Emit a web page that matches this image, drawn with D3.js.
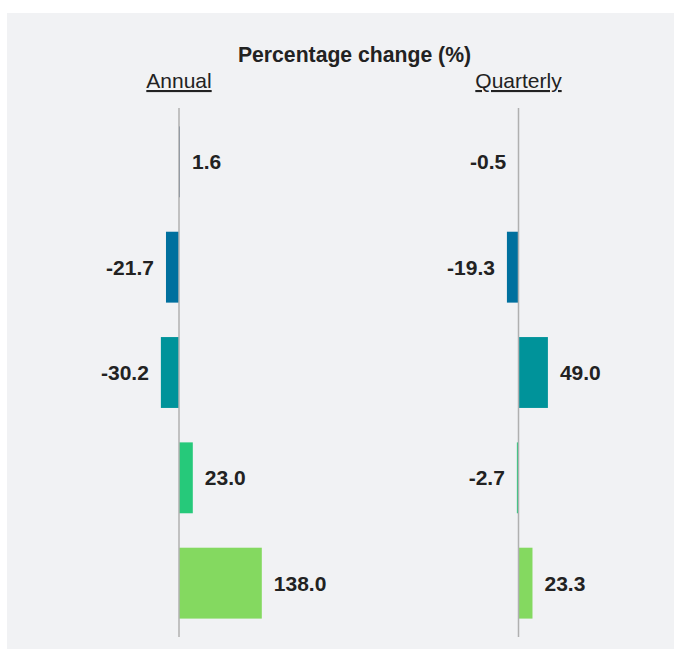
<!DOCTYPE html>
<html>
<head>
<meta charset="utf-8">
<script src="https://cdn.jsdelivr.net/npm/d3@7"></script>
<style>
  html, body { margin: 0; padding: 0; background: #ffffff; }
  svg { display: block; }
  text { font-family: "Liberation Sans", Arial, Helvetica, sans-serif; }
</style>
</head>
<body>
<svg id="chart" width="674" height="649"></svg>
<script>
// ---- data ----
const categories = ["Row 1", "Row 2", "Row 3", "Row 4", "Row 5"];
const annualValues = [1.6, -21.7, -30.2, 23.0, 138.0];
const quarterlyValues = [-0.5, -19.3, 49.0, -2.7, 23.3];
const barColors = ["#3b5878", "#00709e", "#00939a", "#26c97a", "#84d960"];
const panelTitles = ["Annual", "Quarterly"];
const chartTitle = "Percentage change (%)";

// ---- drawing ----
const svg = d3.select("#chart");

svg.append("rect")
  .attr("x", 7).attr("y", 13)
  .attr("width", 667).attr("height", 636)
  .attr("fill", "#f1f2f4");

svg.append("text")
  .attr("x", 354.5).attr("y", 62)
  .attr("text-anchor", "middle")
  .attr("font-size", 21.2)
  .attr("font-weight", "bold")
  .attr("fill", "#222222")
  .text(chartTitle);

const y = d3.scaleBand()
  .domain(categories)
  .range([108.5, 636.5])
  .paddingInner(0.327)
  .paddingOuter(0.17);

const panels = [
  { title: panelTitles[0], values: annualValues, x: d3.scaleLinear().domain([-50, 150]).range([149, 269]) },
  { title: panelTitles[1], values: quarterlyValues, x: d3.scaleLinear().domain([-50, 150]).range([488.5, 608.5]) }
];

panels.forEach(p => {
  const g = svg.append("g");
  const x0 = p.x(0);

  g.append("text")
    .attr("x", x0).attr("y", 88)
    .attr("text-anchor", "middle")
    .attr("font-size", 21)
    .attr("fill", "#222222")
    .style("text-decoration", "underline")
    .text(p.title);

  const rows = categories.map((c, i) => ({ c, v: p.values[i], color: barColors[i] }));

  g.selectAll("rect.bar").data(rows).enter().append("rect")
    .attr("class", "bar")
    .attr("x", d => Math.min(p.x(d.v), x0))
    .attr("y", d => y(d.c))
    .attr("width", d => Math.abs(p.x(d.v) - x0))
    .attr("height", y.bandwidth())
    .attr("fill", d => d.color);

  g.append("line")
    .attr("x1", x0).attr("x2", x0)
    .attr("y1", 108).attr("y2", 637)
    .attr("stroke", "#b0b0b0")
    .attr("stroke-width", 1.5);

  g.selectAll("text.val").data(rows).enter().append("text")
    .attr("class", "val")
    .attr("x", d => d.v >= 0 ? p.x(d.v) + 12 : p.x(d.v) - 12)
    .attr("y", d => y(d.c) + y.bandwidth() / 2)
    .attr("dy", "0.35em")
    .attr("text-anchor", d => d.v >= 0 ? "start" : "end")
    .attr("font-size", 21)
    .attr("font-weight", "bold")
    .attr("fill", "#222222")
    .text(d => d.v.toFixed(1));
});
</script>
</body>
</html>
